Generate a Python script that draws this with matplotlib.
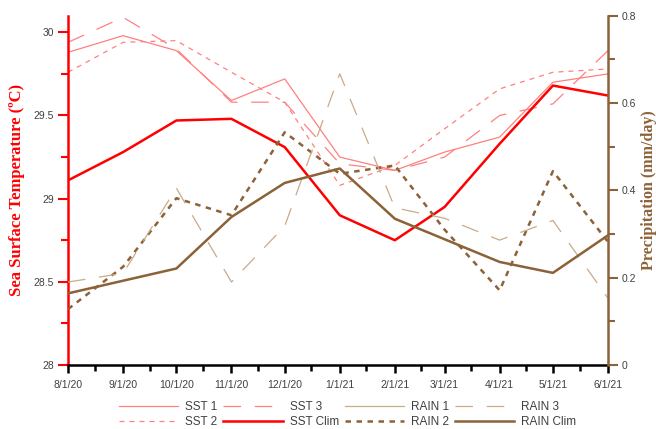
import datetime as dt
import matplotlib
matplotlib.use("Agg")
import matplotlib.pyplot as plt
import matplotlib.dates as mdates
from matplotlib.ticker import MultipleLocator

# monthly dates
months = [dt.date(2020, m, 1) for m in range(8, 13)] + [dt.date(2021, m, 1) for m in range(1, 7)]

# sea surface temperature (left axis)
sst1 = [29.88, 29.98, 29.89, 29.59, 29.72, 29.25, 29.17, 29.28, 29.37, 29.70, 29.75]
sst2 = [29.76, 29.94, 29.95, 29.76, 29.58, 29.08, 29.20, 29.42, 29.66, 29.76, 29.78]
sst3 = [29.94, 30.09, 29.90, 29.58, 29.58, 29.21, 29.17, 29.25, 29.50, 29.57, 29.89]
sst_clim = [29.11, 29.28, 29.47, 29.48, 29.31, 28.90, 28.75, 28.95, 29.33, 29.68, 29.62]

# precipitation (right axis)
rain_clim = [0.164, 0.193, 0.221, 0.339, 0.417, 0.450, 0.335, 0.288, 0.236, 0.211, 0.297]
rain1 = [0.164, 0.193, 0.221, 0.339, 0.417, 0.450, 0.335, 0.288, 0.236, 0.211, 0.297]
rain2 = [0.128, 0.225, 0.382, 0.343, 0.533, 0.438, 0.457, 0.31, 0.171, 0.444, 0.282]
rain3 = [0.190, 0.210, 0.405, 0.190, 0.318, 0.667, 0.360, 0.336, 0.286, 0.331, 0.153]

red = "#ff0000"
pink = "#ff8080"
brown = "#8c6239"
tan = "#c9aa8a"
grey = "#404040"

plt.rcParams["font.family"] = "Liberation Sans"

fig = plt.figure(figsize=(6.56, 4.29), dpi=100)
ax = fig.add_axes([0.1037, 0.1492, 0.8231, 0.8142])
ax2 = ax.twinx()

l1, = ax.plot(months, sst1, color=pink, lw=0.9, label="SST 1")
l2, = ax.plot(months, sst2, color=pink, lw=0.9, dashes=(4, 4), label="SST 2")
l3, = ax.plot(months, sst3, color=pink, lw=0.9, dashes=(14, 11), label="SST 3")
l4, = ax.plot(months, sst_clim, color=red, lw=1.8, label="SST Clim")

r1, = ax2.plot(months, rain1, color=tan, lw=0.9, label="RAIN 1")
r2, = ax2.plot(months, rain2, color=brown, lw=1.8, dashes=(2.2, 2.2), label="RAIN 2")
r3, = ax2.plot(months, rain3, color=tan, lw=0.9, dashes=(14, 11), label="RAIN 3")
r4, = ax2.plot(months, rain_clim, color=brown, lw=1.8, label="RAIN Clim")

ax.set_xlim(months[0], months[-1])
ax.set_ylim(28, 30.1)
ax2.set_ylim(0, 0.8)

ax.xaxis.set_major_locator(mdates.MonthLocator())
ax.xaxis.set_minor_locator(mdates.MonthLocator(bymonthday=16))
ax.xaxis.set_major_formatter(mdates.DateFormatter("%-m/%-d/%y"))
ax.yaxis.set_major_locator(MultipleLocator(0.5))
ax.yaxis.set_minor_locator(MultipleLocator(0.25))
ax2.yaxis.set_major_locator(MultipleLocator(0.2))
ax2.yaxis.set_minor_locator(MultipleLocator(0.1))
ax.yaxis.set_major_formatter(plt.FuncFormatter(lambda v, p: f"{v:g}"))
ax2.yaxis.set_major_formatter(plt.FuncFormatter(lambda v, p: f"{v:g}"))

for a in (ax, ax2):
    a.spines["top"].set_visible(False)
ax2.spines["left"].set_visible(False)
ax2.spines["bottom"].set_visible(False)
ax.spines["right"].set_visible(False)
ax.spines["left"].set_color(red)
ax.spines["left"].set_linewidth(1.8)
ax.spines["bottom"].set_color("black")
ax.spines["bottom"].set_linewidth(1.8)
ax2.spines["right"].set_color(brown)
ax2.spines["right"].set_linewidth(1.8)

ax.tick_params(axis="x", which="major", length=6, width=1.8, color="black",
               labelsize=7.5, labelcolor=grey, pad=5)
ax.tick_params(axis="x", which="minor", length=4, width=1.8, color="black")
ax.tick_params(axis="y", which="major", length=7, width=1.5, color=red,
               labelsize=7.5, labelcolor=grey, pad=3)
ax.tick_params(axis="y", which="minor", length=5, width=1.5, color=red)
ax2.tick_params(axis="y", which="major", length=7, width=1.5, color=brown,
                labelsize=7.5, labelcolor=grey, pad=3)
ax2.tick_params(axis="y", which="minor", length=5, width=1.5, color=brown)

ax.set_ylabel("Sea Surface Temperature (ºC)", color=red, fontsize=12,
              fontweight="bold", family="Liberation Serif", labelpad=6)
ax2.set_ylabel("Precipitation (mm/day)", color=brown, fontsize=11.5,
               fontweight="bold", family="Liberation Serif", labelpad=3)

handles = [l1, l2, l3, l4, r1, r2, r3, r4]
fig.legend(handles=handles, labels=[h.get_label() for h in handles],
           loc="lower center", bbox_to_anchor=(0.53, -0.022), ncol=4,
           frameon=False, fontsize=8.5, handlelength=5, columnspacing=0.5,
           labelspacing=0.2, handletextpad=0.6, labelcolor=grey)

fig.savefig("out.png", dpi=100)
